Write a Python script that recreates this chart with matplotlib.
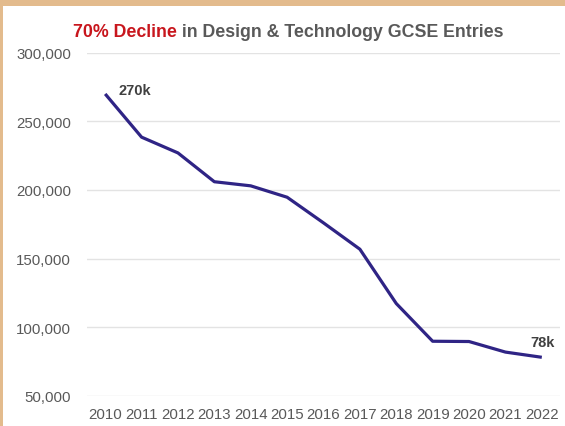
import matplotlib
matplotlib.use("Agg")
import matplotlib.pyplot as plt
from matplotlib.patches import Rectangle
from matplotlib.ticker import FuncFormatter

years = ["2010", "2011", "2012", "2013", "2014", "2015", "2016",
         "2017", "2018", "2019", "2020", "2021", "2022"]
entries = [270000, 238500, 227000, 206000, 203000, 194700, 176000,
           156800, 117200, 89700, 89500, 81800, 78000]
y_ticks = [50000, 100000, 150000, 200000, 250000, 300000]
first_label = "270k"
last_label = "78k"
title_red = "70% Decline"
title_rest = " in Design & Technology GCSE Entries"

plt.rcParams["font.family"] = ["Liberation Sans", "DejaVu Sans"]

W, H = 565, 427
fig = plt.figure(figsize=(W / 100, H / 100), dpi=100)
fig.patch.set_facecolor("white")

# beige frame strips along the top and left edges
frame = "#E3BB8D"
fig.patches.append(Rectangle((0, 1 - 7 / H), 1, 7 / H, transform=fig.transFigure,
                             facecolor=frame, edgecolor="none", zorder=0))
fig.patches.append(Rectangle((0, 0), 3 / W, 1, transform=fig.transFigure,
                             facecolor=frame, edgecolor="none", zorder=0))

left, right = 87 / W, 560 / W
bottom, top = (H - 396.7) / H, (H - 53.8) / H
ax = fig.add_axes([left, bottom, right - left, top - bottom])

x = list(range(len(years)))
ax.plot(x, entries, color="#2F2485", linewidth=2.3, solid_joinstyle="round",
        solid_capstyle="butt", zorder=3)

ax.set_xlim(-0.5, len(years) - 0.5)
ax.set_ylim(y_ticks[0], y_ticks[-1])
ax.set_yticks(y_ticks)
ax.yaxis.set_major_formatter(FuncFormatter(lambda v, p: f"{int(v):,}"))
ax.set_xticks(x)
ax.set_xticklabels(years)

ax.grid(axis="y", color="#E3E3E3", linewidth=1.0)
ax.grid(axis="x", visible=False)
ax.set_axisbelow(True)
for s in ax.spines.values():
    s.set_visible(False)
ax.tick_params(axis="both", length=0, labelsize=10.8, colors="#595959")
ax.tick_params(axis="y", pad=11.5)
ax.tick_params(axis="x", pad=8)

ax.annotate(first_label, xy=(x[0], entries[0]), xytext=(13, 4),
            textcoords="offset pixels", ha="left", va="center",
            fontsize=10.5, fontweight="bold", color="#404040")
ax.annotate(last_label, xy=(x[-1], entries[-1]), xytext=(1, 15),
            textcoords="offset pixels", ha="center", va="center",
            fontsize=10.5, fontweight="bold", color="#404040")

# two-colour title
t1 = fig.text(72.7 / W, 1 - 36.7 / H, title_red, color="#C8161D",
              fontsize=12.8, fontweight="bold", ha="left", va="baseline")
fig.canvas.draw()
ax.annotate(title_rest, xy=(1, 0), xycoords=t1, xytext=(0, 0),
            textcoords="offset pixels", ha="left", va="bottom",
            color="#595959", fontsize=12.8, fontweight="bold",
            annotation_clip=False)

fig.savefig("out.png", dpi=100)
